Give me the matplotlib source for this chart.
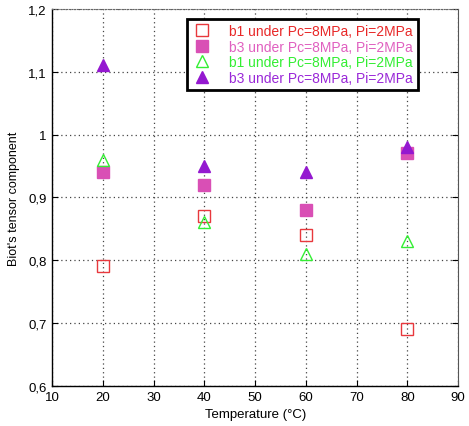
import matplotlib.pyplot as plt
from matplotlib.ticker import FuncFormatter

plt.rcParams["font.family"] = ["Liberation Sans", "DejaVu Sans"]
plt.rcParams["font.size"] = 9
plt.rcParams["xtick.direction"] = "in"
plt.rcParams["ytick.direction"] = "in"

temperature = [20, 40, 60, 80]
b1_squares = [0.79, 0.87, 0.84, 0.69]
b3_squares = [0.94, 0.92, 0.88, 0.97]
b1_triangles = [0.96, 0.86, 0.81, 0.83]
b3_triangles = [1.11, 0.95, 0.94, 0.98]

labels = [
    "b1 under Pc=8MPa, Pi=2MPa",
    "b3 under Pc=8MPa, Pi=2MPa",
    "b1 under Pc=8MPa, Pi=2MPa",
    "b3 under Pc=8MPa, Pi=2MPa",
]
colors = ["#e8383d", "#d94fb5", "#33ee33", "#9418d0"]
text_colors = ["#e82828", "#e060c0", "#33ee33", "#9a28d8"]

fig = plt.figure(figsize=(4.69, 4.27), dpi=100)
ax = fig.add_axes([0.111, 0.094, 0.866, 0.883])

ax.plot(temperature, b1_squares, ls="none", marker="s", ms=8,
        mfc="none", mec=colors[0], mew=1.0, label=labels[0])
ax.plot(temperature, b3_squares, ls="none", marker="s", ms=8,
        mfc=colors[1], mec=colors[1], label=labels[1])
ax.plot(temperature, b1_triangles, ls="none", marker="^", ms=8,
        mfc="none", mec=colors[2], mew=1.0, label=labels[2])
ax.plot(temperature, b3_triangles, ls="none", marker="^", ms=8,
        mfc=colors[3], mec=colors[3], label=labels[3])

ax.set_xlim(10, 90)
ax.set_ylim(0.6, 1.2)
ax.set_xticks(range(10, 91, 10))
ax.set_yticks([0.6, 0.7, 0.8, 0.9, 1.0, 1.1, 1.2])
ax.yaxis.set_major_formatter(FuncFormatter(
    lambda v, p: ("%g" % round(v, 2)).replace(".", ",")))
ax.tick_params(axis="both", length=4, width=0.8, labelsize=9.5, pad=4,
               right=True)
ax.grid(True, color="#444444", linestyle=(0, (1, 2.5)), linewidth=0.9)

ax.spines["top"].set_linestyle((0, (1, 1.5)))
ax.spines["top"].set_color("#666666")
ax.spines["right"].set_color("#555555")
ax.spines["left"].set_linewidth(1.0)
ax.spines["bottom"].set_linewidth(1.0)

ax.set_xlabel("Temperature (\u00b0C)", fontsize=9.5, labelpad=3)
ax.set_ylabel("Biot's tensor component", fontsize=9, labelpad=6)

leg = ax.legend(loc="upper right", bbox_to_anchor=(0.901, 0.973),
                frameon=True, fancybox=False, fontsize=10, framealpha=1,
                handletextpad=1.2, borderpad=0.35, labelspacing=0.12,
                handlelength=1.5, borderaxespad=0)
leg.get_frame().set_edgecolor("black")
leg.get_frame().set_linewidth(2)
for t, c in zip(leg.get_texts(), text_colors):
    t.set_color(c)

fig.savefig("out.png", dpi=100)
